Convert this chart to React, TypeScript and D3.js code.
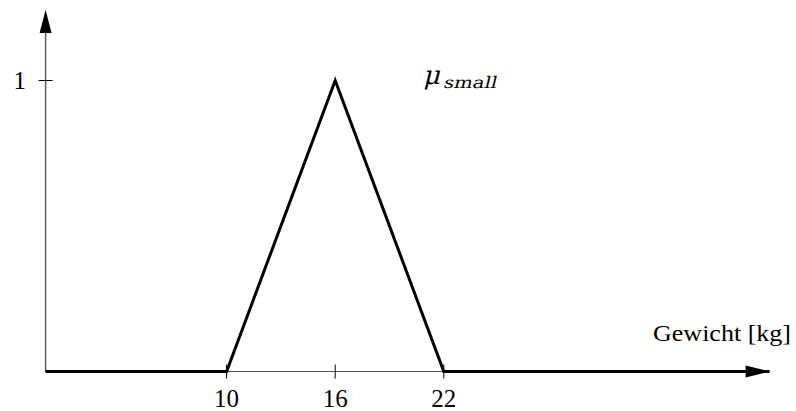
import React from "react";
import * as d3 from "d3";

const xPoints = [0, 10, 16, 22, 40];
const yPoints = [0, 0, 1, 0, 0];
const xTicks = [10, 16, 22];
const yTicks = [1];
const xLabel = "Gewicht [kg]";

const W = 796;
const H = 411;

export default function App() {
  const x = d3.scaleLinear().domain([0, 40]).range([45.6, 769.6]);
  const y = d3.scaleLinear().domain([0, 1]).range([371.5, 80.5]);
  const yTop = 10;
  const line = d3
    .line<number>()
    .x((_, i) => x(xPoints[i]))
    .y((d) => y(d));
  const font = "'Liberation Serif', 'Times New Roman', serif";
  const mathFont = "'DejaVu Serif', serif";
  const x0 = x(0);
  const y0 = y(0);
  const xEnd = x(40);
  const skew = (px: number, py: number) => `translate(${px},${py}) skewX(-14)`;
  return (
    <svg
      width={W}
      height={H}
      style={{ position: "absolute", left: 0, top: 0, background: "#fff" }}
      fontFamily={font}
    >
      {/* axes */}
      <line x1={x0} y1={y0} x2={xEnd - 20} y2={y0} stroke="#555" strokeWidth={1.2} />
      <line x1={x0} y1={y0} x2={x0} y2={yTop + 20} stroke="#555" strokeWidth={1.4} />
      {/* function */}
      <path d={line(yPoints) || ""} fill="none" stroke="#000" strokeWidth={3} strokeLinejoin="miter" />
      {/* arrows */}
      <path d={`M${xEnd},${y0} L${xEnd - 24},${y0 - 6} L${xEnd - 24},${y0 + 6} Z`} fill="#000" />
      <path d={`M${x0},${yTop} L${x0 - 6},${yTop + 23} L${x0 + 6},${yTop + 23} Z`} fill="#000" />
      {/* x ticks */}
      {xTicks.map((t) => (
        <g key={t}>
          <line x1={x(t)} x2={x(t)} y1={y0 - 7} y2={y0 + 7} stroke="#000" strokeWidth={1} />
          <text x={x(t)} y={407} textAnchor="middle" fontSize={25}>
            {t}
          </text>
        </g>
      ))}
      {/* y ticks */}
      {yTicks.map((t) => (
        <g key={t}>
          <line x1={x0 - 7} x2={x0 + 7} y1={y(t)} y2={y(t)} stroke="#000" strokeWidth={1} />
          <text x={26} y={y(t) + 8} textAnchor="end" fontSize={25}>
            {t}
          </text>
        </g>
      ))}
      <text x={791} y={341} textAnchor="end" fontSize={24} textLength={138} lengthAdjust="spacingAndGlyphs">
        {xLabel}
      </text>
      <g transform={skew(423, 84)}>
        <text x={0} y={0} fontSize={26} fontFamily={mathFont}>
          μ
        </text>
      </g>
      <g transform={skew(443, 88)}>
        <text x={0} y={0} fontSize={16} fontFamily={mathFont} textLength={53} lengthAdjust="spacingAndGlyphs">
          small
        </text>
      </g>
    </svg>
  );
}
